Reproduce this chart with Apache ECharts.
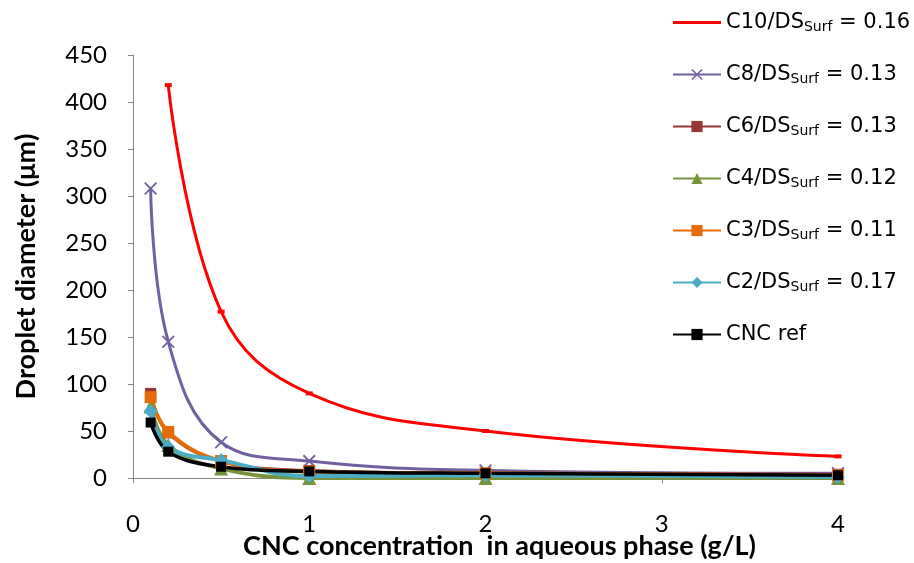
<!DOCTYPE html>
<html>
<head>
<meta charset="utf-8">
<script src="https://cdn.jsdelivr.net/npm/echarts@6/dist/echarts.min.js"></script>
<style>
  html, body { margin: 0; padding: 0; background: #fff; }
  #chart { width: 914px; height: 563px; }
</style>
</head>
<body>
<div id="chart"></div>
<script>
// CNC concentration (g/L)
var conc = [0.1, 0.2, 0.5, 1, 2, 4];

// droplet diameters (µm)
var c10 = [null, 418, 177, 90, 50, 23];
var c8 = [308, 145, 38, 18, 8, 5];
var c6 = [90, 48, 18, 8, 5, 4];
var c4 = [76, 35, 10, 0, 0, 0];
var c3 = [86, 49, 18, 7, 5, 3];
var c2 = [71, 33, 19, 2, 3, 1];
var cncRef = [59, 28, 12, 7, 5, 3];

var xTicks = [0, 1, 2, 3, 4];
var yTicks = [0, 50, 100, 150, 200, 250, 300, 350, 400, 450];

var crossPath = 'path://M0,1 L1,0 L5,4 L9,0 L10,1 L6,5 L10,9 L9,10 L5,6 L1,10 L0,9 L4,5 Z';
// plain line for the red legend entry (no marker), padded to the item box
var plainLine = 'path://M0,0 M48,14 M0,5.5 L48,5.5 L48,8.5 L0,8.5 Z';

function pairs(ys) {
  var out = [];
  for (var i = 0; i < conc.length; i++) {
    if (ys[i] !== null) out.push([conc[i], ys[i]]);
  }
  return out;
}

function mkSeries(name, ys, color, symbol, size, width) {
  return {
    name: name,
    type: 'line',
    data: pairs(ys),
    smooth: 0.4,
    symbol: symbol,
    symbolSize: size,
    showSymbol: true,
    lineStyle: { color: color, width: width },
    itemStyle: { color: color },
    emphasis: { disabled: true }
  };
}

var chart = echarts.init(document.getElementById('chart'));

chart.setOption({
  animation: false,
  grid: { left: 133, right: 76, top: 55, bottom: 85, containLabel: false, outerBoundsMode: 'none' },
  legend: {
    orient: 'vertical',
    left: 667,
    top: 7,
    itemWidth: 48,
    itemHeight: 14,
    itemGap: 30,
    textStyle: {
      fontFamily: 'DejaVu Sans',
      fontSize: 21,
      color: '#000',
      rich: {
        sub: { fontFamily: 'DejaVu Sans', fontSize: 14, color: '#000', verticalAlign: 'bottom', padding: [9, 0, 0, 0] }
      }
    },
    formatter: function (name) {
      var m = name.split('|');
      return m.length > 1 ? m[0] + '{sub|Surf}' + m[1] : name;
    },
    data: [
      { name: 'C10/DS| = 0.16', icon: plainLine },
      'C8/DS| = 0.13', 'C6/DS| = 0.13', 'C4/DS| = 0.12', 'C3/DS| = 0.11', 'C2/DS| = 0.17', 'CNC ref'
    ]
  },
  xAxis: {
    type: 'value',
    min: 0,
    max: 4,
    interval: 1,
    name: 'CNC concentration  in aqueous phase (g/L)',
    nameLocation: 'middle',
    nameGap: 55,
    nameMoveOverlap: false,
    nameTextStyle: { fontFamily: 'Lato', fontSize: 27, fontWeight: 'bold', color: '#000', padding: [0, 0, 0, 28] },
    axisLine: { lineStyle: { color: '#868686', width: 1 } },
    axisTick: { show: true, inside: false, length: 5, lineStyle: { color: '#868686' } },
    axisLabel: {
      margin: 34, fontFamily: 'Lato', fontSize: 24, color: '#000',
      formatter: function (v) { return xTicks.indexOf(v) >= 0 ? String(v) : ''; }
    },
    splitLine: { show: false }
  },
  yAxis: {
    type: 'value',
    min: 0,
    max: 450,
    interval: 50,
    name: 'Droplet diameter (μm)',
    nameLocation: 'middle',
    nameGap: 93,
    nameMoveOverlap: false,
    nameTextStyle: { fontFamily: 'Lato', fontSize: 27, fontWeight: 'bold', color: '#000' },
    axisLine: { show: true, lineStyle: { color: '#868686', width: 1 } },
    axisTick: { show: true, inside: false, length: 5, lineStyle: { color: '#868686' } },
    axisLabel: {
      margin: 26, fontFamily: 'Lato', fontSize: 24, color: '#000',
      formatter: function (v) { return yTicks.indexOf(v) >= 0 ? String(v) : ''; }
    },
    splitLine: { show: false }
  },
  series: [
    mkSeries('C10/DS| = 0.16', c10, '#FF0000', 'rect', [7, 4], 3),
    mkSeries('C8/DS| = 0.13', c8, '#7160A0', crossPath, 13, 3),
    mkSeries('C6/DS| = 0.13', c6, '#953735', 'rect', 11, 3),
    mkSeries('C4/DS| = 0.12', c4, '#77933C', 'triangle', 14, 4),
    mkSeries('C3/DS| = 0.11', c3, '#E46C0A', 'rect', 12, 4),
    mkSeries('C2/DS| = 0.17', c2, '#4BACC6', 'diamond', 14, 4),
    mkSeries('CNC ref', cncRef, '#000000', 'rect', 10, 3.5)
  ]
});
</script>
</body>
</html>
